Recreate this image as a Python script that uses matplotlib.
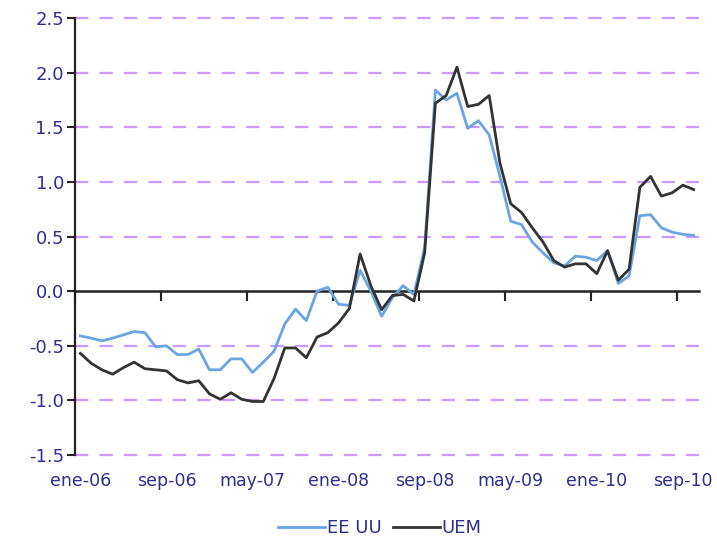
# Spread chart: EE UU vs UEM, monthly ene-06 .. oct-10

import numpy as np
import matplotlib.pyplot as plt

# monthly values, ene-06 to oct-10
ee_uu = [-0.41, -0.43, -0.455, -0.43, -0.40, -0.37, -0.38, -0.51, -0.50, -0.58,
         -0.58, -0.53, -0.72, -0.72, -0.62, -0.62, -0.745, -0.65, -0.55, -0.30,
         -0.165, -0.27, 0.0, 0.035, -0.12, -0.13, 0.19, 0.0, -0.23, -0.06,
         0.05, -0.03, 0.40, 1.84, 1.75, 1.81, 1.49, 1.56, 1.43, 1.05,
         0.64, 0.61, 0.45, 0.35, 0.26, 0.23, 0.32, 0.31, 0.28, 0.37,
         0.07, 0.14, 0.69, 0.70, 0.58, 0.54, 0.52, 0.51]
uem = [-0.57, -0.66, -0.72, -0.76, -0.70, -0.65, -0.71, -0.72, -0.73, -0.81,
       -0.84, -0.82, -0.94, -0.99, -0.93, -0.99, -1.01, -1.01, -0.80, -0.52,
       -0.52, -0.61, -0.42, -0.38, -0.29, -0.16, 0.34, 0.05, -0.17, -0.04,
       -0.03, -0.09, 0.35, 1.72, 1.79, 2.05, 1.69, 1.71, 1.79, 1.17,
       0.80, 0.72, 0.58, 0.45, 0.28, 0.22, 0.25, 0.25, 0.16, 0.37,
       0.10, 0.20, 0.95, 1.05, 0.87, 0.90, 0.97, 0.93]
tick_labels = ['ene-06', 'sep-06', 'may-07', 'ene-08', 'sep-08', 'may-09', 'ene-10', 'sep-10']
y_ticks = [-1.5, -1.0, -0.5, 0.0, 0.5, 1.0, 1.5, 2.0, 2.5]

n = len(uem)
x = np.arange(n) + 0.5  # points sit in the middle of each month category
label_color = '#2E2E8F'

fig = plt.figure(figsize=(7.17, 5.39), dpi=100)
ax = fig.add_axes([0.1046, 0.1558, 0.8703, 0.8108])

ax.plot(x, ee_uu, color='#69A5E3', lw=2.0, label='EE UU', zorder=3)
ax.plot(x, uem, color='#333333', lw=2.0, label='UEM', zorder=4)

ax.set_xlim(0, n)
ax.set_ylim(-1.5, 2.5)

# y axis
ax.set_yticks(y_ticks)
ax.set_yticklabels(['%.1f' % v for v in y_ticks])
ax.tick_params(axis='y', direction='out', length=6, width=1.5, color='#222222',
               labelsize=13, labelcolor=label_color, pad=2)
ax.yaxis.grid(True, color='#CC99FF', linestyle=(0, (6, 5)), linewidth=1.6)
for v, gl in zip(y_ticks, ax.get_ygridlines()):
    gl.set_clip_on(False)
    if v == 0.0:
        gl.set_visible(False)  # the zero line is the x axis itself
ax.set_axisbelow(True)

# x axis line at zero with ticks at category borders
for s in ['top', 'right']:
    ax.spines[s].set_visible(False)
ax.spines['left'].set_linewidth(1.6)
ax.spines['left'].set_color('#222222')
ax.spines['bottom'].set_position(('data', 0))
ax.spines['bottom'].set_linewidth(1.8)
ax.spines['bottom'].set_color('#222222')
ax.set_xticks(np.arange(0, n, 8))
ax.set_xticklabels([])
ax.tick_params(axis='x', direction='out', length=7, width=1.5, color='#222222')

# month labels along the bottom of the plot
sec = ax.secondary_xaxis(0)
sec.set_xticks(np.arange(0, n, 8) + 0.5)
sec.set_xticklabels(tick_labels)
sec.tick_params(length=0, labelsize=12.5, labelcolor=label_color, pad=12)
sec.spines['bottom'].set_visible(False)

fig.legend(loc='center', bbox_to_anchor=(0.53, 0.02), ncol=2, frameon=False,
           fontsize=13, handlelength=2.6, handletextpad=0.1, columnspacing=0.6,
           labelcolor=label_color)

fig.savefig('out.png', dpi=100)
